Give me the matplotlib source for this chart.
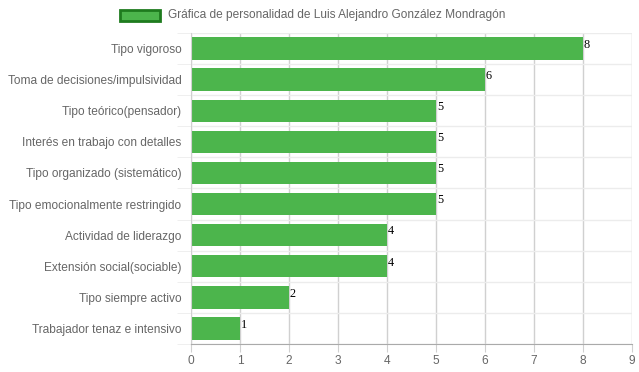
import matplotlib
matplotlib.use("Agg")
import matplotlib.pyplot as plt
import numpy as np
from matplotlib.patches import Rectangle

categories = [
    "Tipo vigoroso",
    "Toma de decisiones/impulsividad",
    "Tipo teórico(pensador)",
    "Interés en trabajo con detalles",
    "Tipo organizado (sistemático)",
    "Tipo emocionalmente restringido",
    "Actividad de liderazgo",
    "Extensión social(sociable)",
    "Tipo siempre activo",
    "Trabajador tenaz e intensivo",
]
values = [8, 6, 5, 5, 5, 5, 4, 4, 2, 1]
x_ticks = list(range(0, 10))
series_name = "Gráfica de personalidad de Luis Alejandro González Mondragón"

bar_color = "#4cb54c"
text_grey = "#666666"
fs = 8.6

plt.rcParams["font.family"] = ["Liberation Sans", "DejaVu Sans"]

fig = plt.figure(figsize=(6.39, 3.72), dpi=100)
ax = fig.add_axes([191 / 639, 28 / 372, (632 - 191) / 639, (344 - 33) / 372])

y = np.arange(len(categories))
ax.barh(y, values, height=0.72, color=bar_color, zorder=2)

for yi, v in zip(y, values):
    ax.text(v + 0.02, yi - 0.12, str(v), family="Liberation Serif",
            fontsize=8.8, color="black", va="center", ha="left", zorder=3)

ax.set_xlim(0, 9)
ax.set_ylim(len(categories) - 0.5, -0.5)
ax.set_xticks(x_ticks)
ax.set_yticks(y)
ax.set_yticklabels(categories)
ax.set_yticks(np.arange(len(categories) + 1) - 0.5, minor=True)

ax.grid(axis="x", which="major", color="#d0d0d0", linewidth=1, zorder=0)
ax.grid(axis="y", which="minor", color="#ececec", linewidth=1, zorder=0)
ax.tick_params(axis="x", length=6, color="#d0d0d0", labelcolor=text_grey,
               labelsize=fs, pad=2)
ax.tick_params(axis="y", which="major", length=0, labelcolor=text_grey,
               labelsize=fs, pad=7)
ax.tick_params(axis="y", which="minor", length=10, color="#ececec")

for side in ["top", "right"]:
    ax.spines[side].set_visible(False)
ax.spines["left"].set_color("#d0d0d0")
ax.spines["bottom"].set_color("#aaaaaa")
ax.set_axisbelow(True)

# legend on top, drawn in figure pixels
fig.patches.append(Rectangle((120 / 639, (372 - 21) / 372), 40 / 639, 11 / 372,
                             transform=fig.transFigure, facecolor=bar_color,
                             edgecolor="#1e7b1e", linewidth=2))
fig.text(168 / 639, (372 - 15) / 372, series_name, color=text_grey,
         fontsize=fs, va="center", ha="left")

fig.savefig("out.png", dpi=100)
